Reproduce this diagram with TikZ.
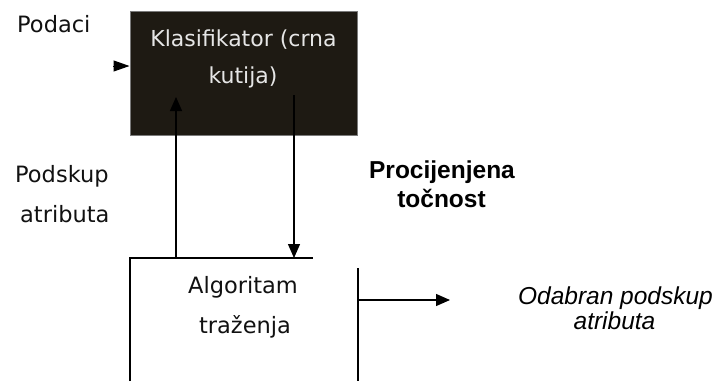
\documentclass[tikz,border=0pt]{standalone}
\usepackage{fontspec}
\newfontfamily\dvs{DejaVu Sans}
\newfontfamily\lib{Liberation Sans}
\usetikzlibrary{arrows.meta}
\definecolor{boxfill}{HTML}{1E1A13}
\definecolor{boxedge}{HTML}{7A7A7A}
\definecolor{txt}{HTML}{111111}
\definecolor{wtxt}{HTML}{E6E6E6}
\begin{document}
\begin{tikzpicture}[x=1pt,y=-1pt,
  lbl/.style={font=\dvs\fontsize{22.5}{26}\selectfont, text=txt, inner sep=0pt, anchor=base},
  wlbl/.style={lbl, font=\dvs\fontsize{22}{26}\selectfont, text=wtxt},
  boldlbl/.style={font=\lib\bfseries\fontsize{24.5}{28}\selectfont, text=black, inner sep=0pt, anchor=base},
  itlbl/.style={font=\lib\itshape\fontsize{24.5}{28}\selectfont, text=black, inner sep=0pt, anchor=base},
  conn/.style={line width=1.3pt, -{Triangle[length=14pt,width=12pt]}},
  boxline/.style={line width=1.3pt}]
\useasboundingbox (0,0) rectangle (718,381);

% black box
\node[draw=boxedge, fill=boxfill, line width=1pt, minimum width=227pt, minimum height=124pt, inner sep=0pt] (klas) at (243.5,73) {};
\node[wlbl] (klas1) at (243.5,46) {Klasifikator (crna};
\node[wlbl] (klas2) at (243,83) {kutija)};

% left labels
\node[lbl, anchor=base west] (podaci) at (17,32) {Podaci};
\node[lbl, anchor=base west] (podskup1) at (15,182) {Podskup};
\node[lbl, anchor=base west] (podskup2) at (20,222) {atributa};

% bold label
\node[boldlbl] (proc1) at (442,178) {Procijenjena};
\node[boldlbl] (proc2) at (441.5,207) {točnost};

% search box (open outline)
\coordinate (bTL) at (130,258);
\coordinate (bTR) at (313,258);
\coordinate (bBL) at (130,381);
\coordinate (bRT) at (358,268);
\coordinate (bRB) at (358,381);
\draw[boxline] (bBL) -- (bTL) -- (bTR);
\draw[boxline] (bRT) -- (bRB);
\node[lbl] (alg1) at (243,293) {Algoritam};
\node[lbl] (alg2) at (245,333) {traženja};

% output label
\node[itlbl] (out1) at (615.5,304) {Odabran podskup};
\node[itlbl] (out2) at (614.5,329) {atributa};

% connectors
\coordinate (datain) at (113,66);
\draw[line width=1pt, -{Triangle[length=16pt,width=11pt]}] (datain) -- (klas.west |- datain);

\coordinate (upfoot) at (176,258);
\coordinate (uptip) at (176,97);
\draw[conn] (upfoot) -- (uptip);

\coordinate (downtop) at (294,95);
\coordinate (downtip) at (294,258);
\draw[conn] (downtop) -- (downtip);

\coordinate (outfoot) at (358,300);
\coordinate (outtip) at (450,300);
\draw[conn] (outfoot) -- (outtip);
\end{tikzpicture}
\end{document}
